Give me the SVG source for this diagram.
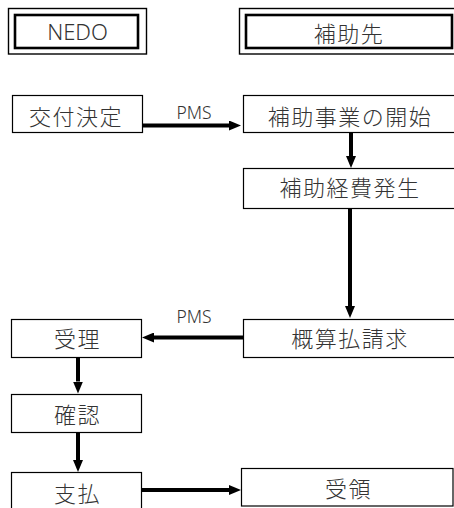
<svg xmlns="http://www.w3.org/2000/svg" width="454" height="508" viewBox="0 0 454 508">
<style>
.box{fill:#fff;stroke:#000;stroke-width:1.2}
.outer{fill:#fff;stroke:#000;stroke-width:1.4}
.inner{fill:none;stroke:#000;stroke-width:2.6}
.jp{font-family:"Noto Sans CJK JP","Noto Sans CJK SC",sans-serif;font-size:22px;font-weight:300;letter-spacing:1.5px;fill:#333;text-anchor:middle}
.en{font-family:"Noto Sans","Liberation Sans",sans-serif;font-size:22px;font-weight:300;fill:#333;text-anchor:middle}
.lbl{font-family:"Noto Sans","Liberation Sans",sans-serif;font-size:17.5px;font-weight:300;fill:#333;text-anchor:middle}
.conn{stroke:#000;stroke-width:4;fill:none}
</style>
<defs>
<marker id="ah" markerUnits="userSpaceOnUse" markerWidth="12" markerHeight="10" refX="0" refY="5" orient="auto">
<path d="M0,0 L12,5 L0,10 z" fill="#000"/>
</marker>
</defs>
<rect width="454" height="508" fill="#fff"/>
<g id="hdr-nedo">
<rect class="outer" x="8.5" y="8.5" width="138" height="45.5"/>
<rect class="inner" x="15" y="15" width="123" height="33"/>
<text class="en" x="77.5" y="39.5">NEDO</text>
</g>
<g id="hdr-hojosaki">
<rect class="outer" x="239.5" y="8.5" width="230" height="45.5"/>
<rect class="inner" x="246" y="15" width="206" height="33"/>
<text class="jp" x="349" y="41.5">補助先</text>
</g>
<g id="n-koufu">
<rect class="box" x="12.5" y="95.5" width="130" height="37"/>
<text class="jp" x="76" y="124.5">交付決定</text>
</g>
<g id="n-kaishi">
<rect class="box" x="243.5" y="95.5" width="214" height="37"/>
<text class="jp" x="350" y="124.5">補助事業の開始</text>
</g>
<g id="n-keihi">
<rect class="box" x="243.5" y="168.5" width="214" height="40"/>
<text class="jp" x="350" y="196">補助経費発生</text>
</g>
<g id="n-seikyu">
<rect class="box" x="243.5" y="319.5" width="214" height="38"/>
<text class="jp" x="350" y="347">概算払請求</text>
</g>
<g id="n-juri">
<rect class="box" x="11.5" y="319.5" width="130" height="38"/>
<text class="jp" x="77.5" y="347">受理</text>
</g>
<g id="n-kakunin">
<rect class="box" x="11.5" y="394.5" width="130" height="38"/>
<text class="jp" x="77.5" y="423">確認</text>
</g>
<g id="n-shiharai">
<rect class="box" x="11.5" y="472.5" width="130" height="40"/>
<text class="jp" x="77.5" y="502">支払</text>
</g>
<g id="n-juryo">
<rect class="box" x="241.5" y="468.5" width="211.5" height="37.5"/>
<text class="jp" x="348.5" y="496.5">受領</text>
</g>
<g id="connectors">
<line class="conn" x1="142.5" y1="125.5" x2="229" y2="125.5" marker-end="url(#ah)"/>
<text class="lbl" x="194" y="119">PMS</text>
<line class="conn" x1="351" y1="132.5" x2="351" y2="156" marker-end="url(#ah)"/>
<line class="conn" x1="350" y1="208.5" x2="350" y2="306" marker-end="url(#ah)"/>
<line class="conn" x1="243.5" y1="337.5" x2="154" y2="337.5" marker-end="url(#ah)"/>
<text class="lbl" x="194" y="323">PMS</text>
<line class="conn" x1="78" y1="357.5" x2="78" y2="381.5" marker-end="url(#ah)"/>
<line class="conn" x1="78" y1="432.5" x2="78" y2="460" marker-end="url(#ah)"/>
<line class="conn" x1="141.5" y1="490" x2="229" y2="490" marker-end="url(#ah)"/>
</g>
</svg>
